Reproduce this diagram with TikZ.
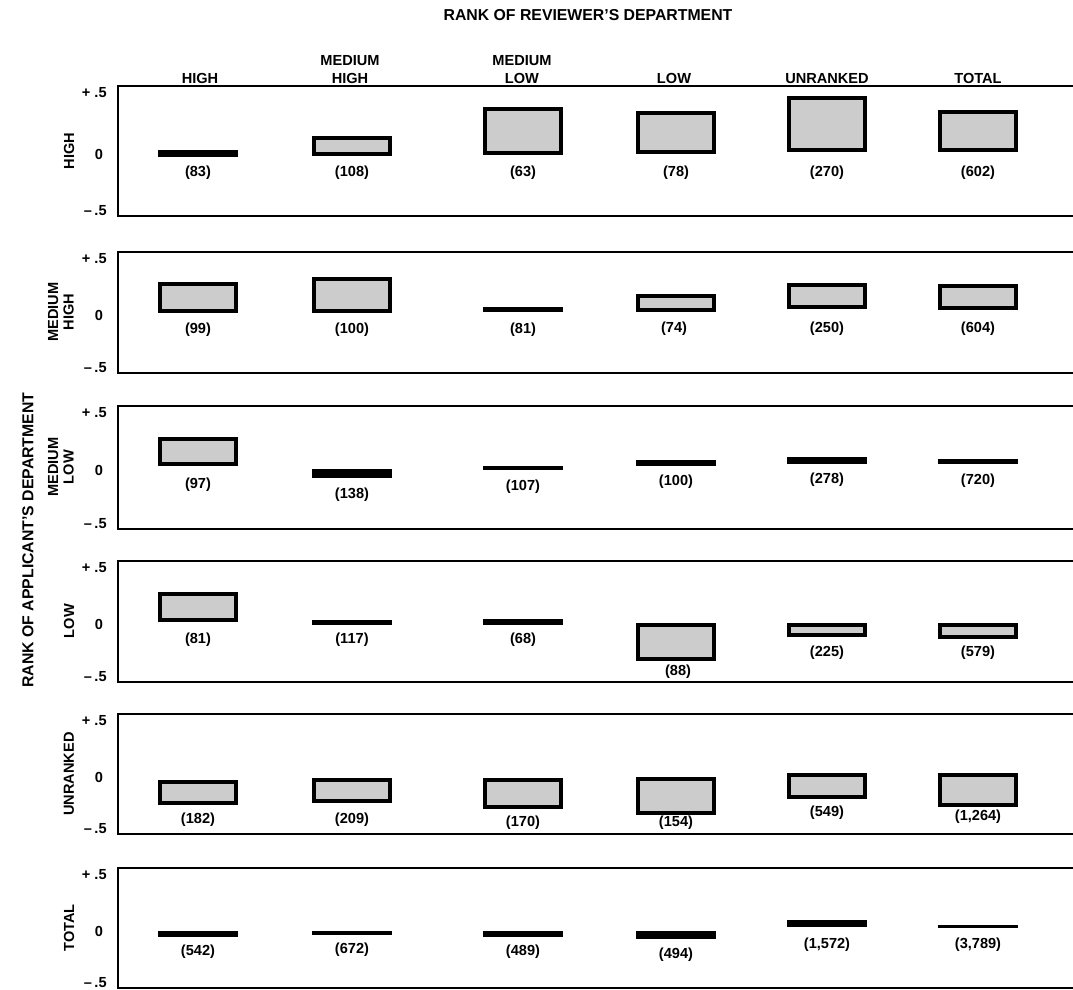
\documentclass[tikz,border=0pt]{standalone}
\usepackage{fontspec}
\setmainfont{Liberation Sans}
\usepackage{tikz}
% one panel: name, top edge, bottom edge
\newcommand{\rpanel}[3]{%
  \draw[line width=1.4pt] (1073,#2) -- (118,#2) -- (118,#3) -- (1073,#3);
  \node[tk,anchor=east] (#1p) at (107,{#2+7}) {+ .5};
  \node[tk] (#1z) at (99,{(#2+#3)/2+3}) {0};
  \node[tk,anchor=east] (#1m) at (107,{#3-5}) {--\,.5};}
% open bar: centre, top, bottom
\newcommand{\rbox}[3]{%
  \fill ({#1-40},#2) rectangle ({#1+40},#3);
  \fill[black!20] ({#1-36},{#2+4}) rectangle ({#1+36},{#3-4});}
% solid bar
\newcommand{\rbar}[3]{\fill ({#1-40},#2) rectangle ({#1+40},#3);}
\newcommand{\rnum}[4]{\node[num] (#1) at (#2,#3) {(#4)};}

\begin{document}
\begin{tikzpicture}[x=0.02cm,y=-0.02cm,
  every node/.style={font=\fontsize{8.3}{10.2}\selectfont\bfseries,inner sep=0pt},
  tk/.style={}, num/.style={},
  axt/.style={font=\fontsize{9}{11}\selectfont\bfseries},
  hd/.style={align=center,anchor=south},
  rowlab/.style={rotate=90,align=center,font=\fontsize{8.3}{8.8}\selectfont\bfseries}]
  \useasboundingbox (0,0) rectangle (1073,990);
  \node[axt] (title) at (588,15) {RANK OF REVIEWER'S DEPARTMENT};
  \node[axt,rotate=90] (appl) at (28,540) {RANK OF APPLICANT'S DEPARTMENT};
  % column heads
  \node[hd] (hHi) at (200,84) {HIGH};
  \node[hd] (hMH) at (350,84) {MEDIUM\\HIGH};
  \node[hd] (hML) at (522,84) {MEDIUM\\LOW};
  \node[hd] (hLo) at (674,84) {LOW};
  \node[hd] (hUn) at (827,84) {UNRANKED};
  \node[hd] (hTo) at (978,84) {TOTAL};
  % rows
  \node[rowlab] (rHi) at (69,151) {HIGH};
  \node[rowlab] (rMH) at (61,312) {MEDIUM\\HIGH};
  \node[rowlab] (rML) at (61,467) {MEDIUM\\LOW};
  \node[rowlab] (rLo) at (69,621) {LOW};
  \node[rowlab] (rUn) at (69,774) {UNRANKED};
  \node[rowlab] (rTo) at (69,928) {TOTAL};
  \rpanel{a}{86}{216} \rpanel{b}{252}{373} \rpanel{c}{406}{529}
  \rpanel{d}{561}{682} \rpanel{e}{714}{834} \rpanel{f}{868}{988}
  % high
  \rbar{198}{150}{157} \rbox{352}{136}{156} \rbox{523}{107}{155}
  \rbox{676}{111}{154} \rbox{827}{96}{152} \rbox{978}{110}{152}
  \rnum{a1}{198}{173}{83} \rnum{a2}{352}{173}{108} \rnum{a3}{523}{173}{63}
  \rnum{a4}{676}{173}{78} \rnum{a5}{827}{173}{270} \rnum{a6}{978}{173}{602}
  % medium high
  \rbox{198}{282}{313} \rbox{352}{277}{313} \rbar{523}{307}{312}
  \rbox{676}{294}{312} \rbox{827}{283}{309} \rbox{978}{284}{310}
  \rnum{b1}{198}{330}{99} \rnum{b2}{352}{330}{100} \rnum{b3}{523}{330}{81}
  \rnum{b4}{674}{329}{74} \rnum{b5}{827}{329}{250} \rnum{b6}{978}{329}{604}
  % medium low
  \rbox{198}{437}{466} \rbar{352}{469}{478} \rbar{523}{466}{470}
  \rbar{676}{460}{466} \rbar{827}{457}{464} \rbar{978}{459}{464}
  \rnum{c1}{198}{485}{97} \rnum{c2}{352}{495}{138} \rnum{c3}{523}{487}{107}
  \rnum{c4}{676}{482}{100} \rnum{c5}{827}{480}{278} \rnum{c6}{978}{481}{720}
  % low
  \rbox{198}{592}{622} \rbar{352}{620}{625} \rbar{523}{619}{625}
  \rbox{676}{623}{661} \rbox{827}{623}{637} \rbox{978}{623}{639}
  \rnum{d1}{198}{640}{81} \rnum{d2}{352}{640}{117} \rnum{d3}{523}{640}{68}
  \rnum{d4}{678}{672}{88} \rnum{d5}{827}{653}{225} \rnum{d6}{978}{653}{579}
  % unranked
  \rbox{198}{780}{805} \rbox{352}{778}{803} \rbox{523}{778}{809}
  \rbox{676}{777}{815} \rbox{827}{773}{799} \rbox{978}{773}{807}
  \rnum{e1}{198}{820}{182} \rnum{e2}{352}{820}{209} \rnum{e3}{523}{823}{170}
  \rnum{e4}{676}{823}{154} \rnum{e5}{827}{813}{549} \rnum{e6}{978}{817}{1,264}
  % total
  \rbar{198}{931}{937} \rbar{352}{931}{935} \rbar{523}{931}{937}
  \rbar{676}{931}{939} \rbar{827}{920}{927} \rbar{978}{925}{928}
  \rnum{f1}{198}{952}{542} \rnum{f2}{352}{950}{672} \rnum{f3}{523}{952}{489}
  \rnum{f4}{676}{955}{494} \rnum{f5}{827}{945}{1,572} \rnum{f6}{978}{945}{3,789}
\end{tikzpicture}
\end{document}
